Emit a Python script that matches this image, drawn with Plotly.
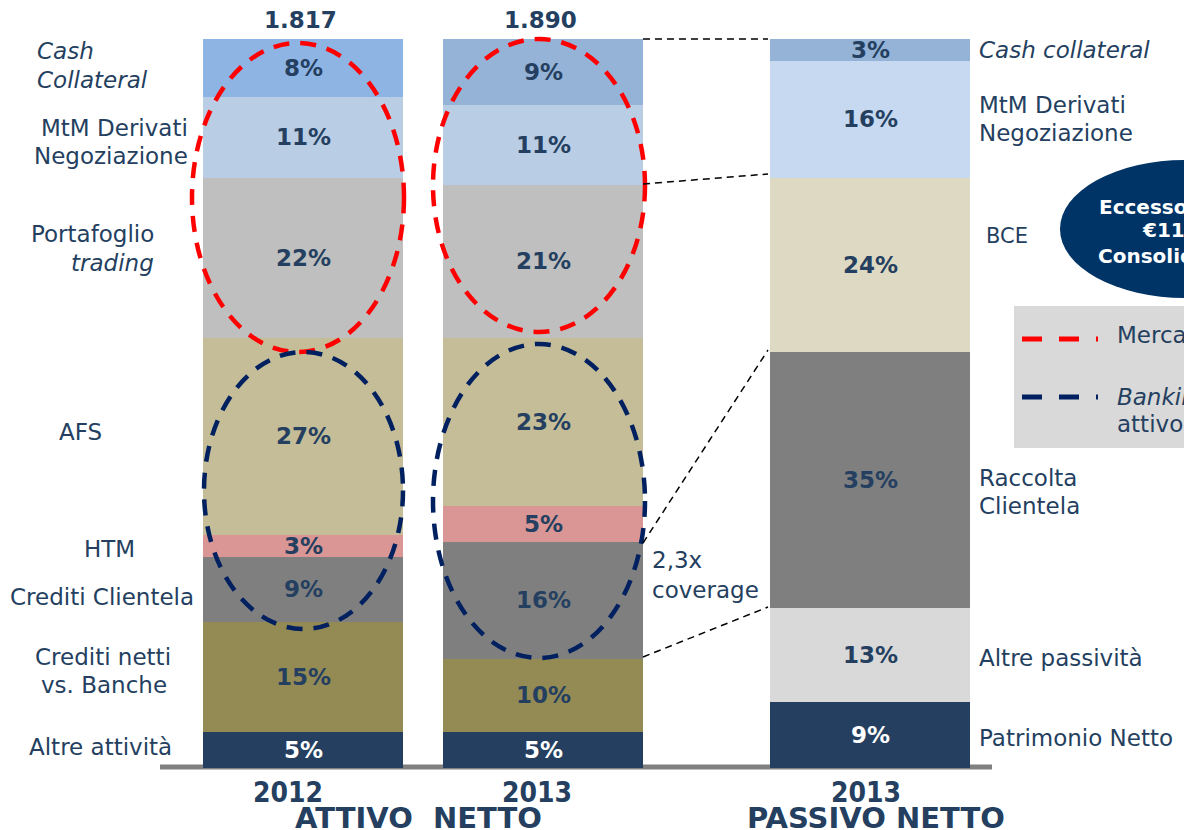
import plotly.graph_objects as go

# ---------------- DATA ----------------
att_segments = ["Altre attività", "Crediti netti vs. Banche", "Crediti Clientela", "HTM",
                "AFS", "Portafoglio trading", "MtM Derivati Negoziazione", "Cash Collateral"]
att_2012 = [5, 15, 9, 3, 27, 22, 11, 8]
att_2013 = [5, 10, 16, 5, 23, 21, 11, 9]
att_totals = ["1.817", "1.890"]
att_years = ["2012", "2013"]

pas_segments = ["Patrimonio Netto", "Altre passività", "Raccolta Clientela", "BCE",
                "MtM Derivati Negoziazione", "Cash collateral"]
pas_2013 = [9, 13, 35, 24, 16, 3]
pas_year = "2013"

coverage_text = ["2,3x", "coverage"]
legend_items = ["Mercato", "Banking book e"]

# ---------------- STYLE ----------------
col_att_2012 = ["#243F60", "#948A54", "#7F7F7F", "#D99694", "#C4BD97", "#BFBFBF", "#B9CDE5", "#8EB4E3"]
col_att_2013 = ["#243F60", "#948A54", "#7F7F7F", "#D99694", "#C4BD97", "#BFBFBF", "#B9CDE5", "#95B3D7"]
col_pas = ["#243F60", "#D9D9D9", "#7F7F7F", "#DDD9C3", "#C6D9F1", "#95B3D7"]
TXT = "#243F60"
FONT = "DejaVu Sans, Verdana, sans-serif"
COND = "DejaVu Sans Condensed, Liberation Sans Narrow, DejaVu Sans, sans-serif"

W, H = 1184, 830
BASE_PX, TOP_PX = 768, 39
SCALE = (BASE_PX - TOP_PX) / 100.0


def Y(p):  # pixel row -> y data value
    return (BASE_PX - p) / SCALE


x_att = [303, 543]
x_pas = 870
BAR_W = 200

fig = go.Figure()
for i, name in enumerate(att_segments):
    fig.add_trace(go.Bar(x=x_att, y=[att_2012[i], att_2013[i]], width=BAR_W, name=name,
                         marker=dict(color=[col_att_2012[i], col_att_2013[i]], line=dict(width=0)),
                         hoverinfo="name+y"))
for i, name in enumerate(pas_segments):
    fig.add_trace(go.Bar(x=[x_pas], y=[pas_2013[i]], width=BAR_W, name=name,
                         marker=dict(color=col_pas[i], line=dict(width=0)),
                         hoverinfo="name+y"))

ann = []


def pct_labels(xc, vals):
    cum = 0
    for j, v in enumerate(vals):
        mid = cum + v / 2.0
        cum += v
        ann.append(dict(x=xc, y=mid, xref="x", yref="y", text="<b>%d%%</b>" % v, showarrow=False,
                        font=dict(family=FONT, size=23, color="white" if j == 0 else TXT)))


pct_labels(x_att[0], att_2012)
pct_labels(x_att[1], att_2013)
pct_labels(x_pas, pas_2013)

# totals above attivo bars
for xc, t in zip([300, 540], att_totals):
    ann.append(dict(x=xc, y=Y(20), xref="x", yref="y", text="<b>%s</b>" % t, showarrow=False,
                    font=dict(family=FONT, size=23, color=TXT)))


def lab(text, xpx, ypx, anchor="left", italic=False, size=23, color=TXT, bold=False, fam=FONT):
    t = text
    if italic:
        t = "<i>%s</i>" % t
    if bold:
        t = "<b>%s</b>" % t
    ann.append(dict(x=xpx, y=Y(ypx), xref="x", yref="y", text=t, showarrow=False,
                    xanchor=anchor, yanchor="middle", font=dict(family=fam, size=size, color=color)))


# left labels (attivo)
lab("Cash", 35, 51, "left", italic=True)
lab("Collateral", 35, 80, "left", italic=True)
lab("MtM Derivati", 190, 128, "right")
lab("Negoziazione", 190, 156, "right")
lab("Portafoglio", 156, 234, "right")
lab("trading", 156, 263, "right", italic=True)
lab("AFS", 80, 432, "center")
lab("HTM", 109, 549, "center")
lab("Crediti Clientela", 102, 597, "center")
lab("Crediti netti", 103, 657, "center")
lab("vs. Banche", 104, 685, "center")
lab("Altre attività", 100, 747, "center")

# right labels (passivo)
lab("Cash collateral", 977, 50, "left", italic=True)
lab("MtM Derivati", 977, 105, "left")
lab("Negoziazione", 977, 133, "left")
lab("BCE", 984, 236, "left", size=21)
lab("Raccolta", 977, 478, "left")
lab("Clientela", 977, 506, "left")
lab("Altre passività", 977, 658, "left")
lab("Patrimonio Netto", 977, 738, "left")

# coverage
lab(coverage_text[0], 650, 560, "left")
lab(coverage_text[1], 650, 590, "left")

# bottom labels
lab(att_years[0], 288, 792, "center", size=28, bold=True, fam=COND)
lab(att_years[1], 537, 792, "center", size=28, bold=True, fam=COND)
lab(pas_year, 866, 792, "center", size=28, bold=True, fam=COND)
lab("ATTIVO\u00a0 NETTO", 418, 818, "center", size=29, bold=True)
lab("PASSIVO NETTO", 876, 818, "center", size=29, bold=True)

# dark ellipse text
lab("Eccesso di liquidità", 1097, 207, "left", size=20, color="white", bold=True)
lab("€11 mld", 1140, 230, "left", size=20, color="white", bold=True)
lab("Consolidato", 1096, 256, "left", size=20, color="white", bold=True)

# legend text
lab(legend_items[0], 1115, 335, "left")
lab("Banking book", 1115, 397, "left", italic=True)
lab("attivo", 1115, 424, "left")

shapes = []


def ellipse(x0, x1, y0, y1, color, dash="16px,11px", width=4.5):
    shapes.append(dict(type="circle", xref="x", yref="y", x0=x0, x1=x1, y0=Y(y1), y1=Y(y0),
                       line=dict(color=color, width=width, dash=dash), layer="above"))


def seg(x0, y0, x1, y1, color="black", width=1.5, dash="7px,5px", layer="above"):
    shapes.append(dict(type="line", xref="x", yref="y", x0=x0, y0=Y(y0), x1=x1, y1=Y(y1),
                       line=dict(color=color, width=width, dash=dash), layer=layer))


# baseline
seg(160, 767, 992, 767, color="#808080", width=5, dash="solid", layer="below")

ellipse(192, 404, 43, 352, "#FF0000")
ellipse(433, 645, 39, 332, "#FF0000")
ellipse(204, 403, 352, 629, "#002060")
ellipse(433, 645, 344, 658, "#002060")

seg(643, 39, 768, 39)
seg(643, 184, 768, 174)
seg(643, 543, 768, 350)
seg(643, 657, 768, 607)

# dark ellipse
shapes.append(dict(type="circle", xref="x", yref="y", x0=1060, x1=1310, y0=Y(298), y1=Y(160),
                   fillcolor="#003366", line=dict(width=0), layer="above"))
# legend box
shapes.append(dict(type="rect", xref="x", yref="y", x0=1014, x1=1200, y0=Y(448), y1=Y(306),
                   fillcolor="#D9D9D9", line=dict(width=0), layer="below"))
seg(1022, 339, 1098, 339, color="#FF0000", width=5, dash="20px,17px")
seg(1022, 397, 1098, 397, color="#002060", width=5, dash="20px,17px")

fig.update_layout(
    width=W, height=H, barmode="stack", showlegend=False,
    margin=dict(l=0, r=0, t=0, b=0),
    paper_bgcolor="white", plot_bgcolor="white",
    xaxis=dict(range=[0, W], visible=False, fixedrange=True),
    yaxis=dict(range=[Y(H), Y(0)], visible=False, fixedrange=True),
    annotations=ann, shapes=shapes,
)

fig.write_html("out.html", config={"displayModeBar": False},
               post_script="document.body.style.margin='0';document.body.style.overflow='hidden';")
